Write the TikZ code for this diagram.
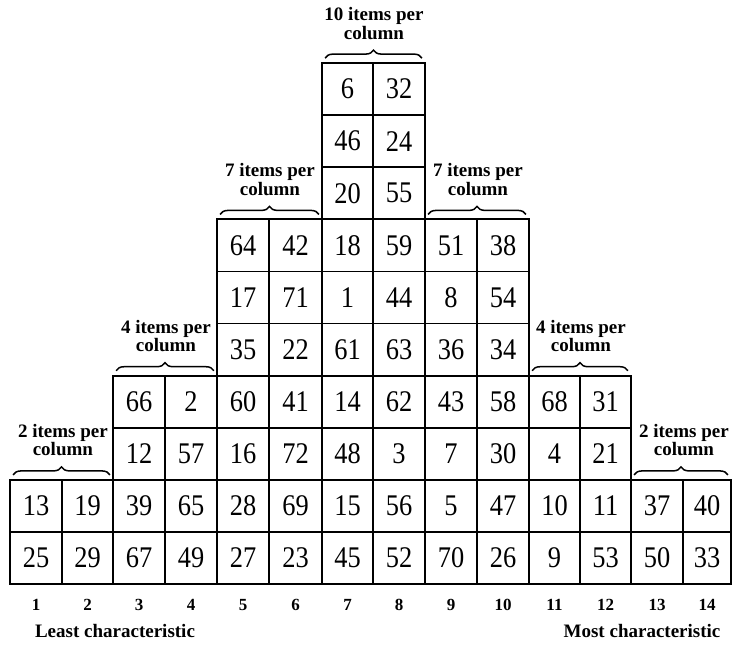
\documentclass[tikz,border=0pt]{standalone}
\usepackage{fontspec}
\setmainfont{Liberation Serif}
\newfontfamily\qnumfont[FakeStretch=0.88]{Liberation Serif}
\usetikzlibrary{decorations.pathreplacing,calc}
\tikzset{
  cell/.style={draw, line width=1.8pt, minimum height=52.1pt, inner sep=0pt,
    font=\qnumfont\fontsize{30}{30}\selectfont},
  colnum/.style={anchor=base, inner sep=0pt, font=\bfseries\fontsize{17}{17}\selectfont},
  lab/.style={anchor=base, align=center, inner sep=0pt, font=\bfseries\fontsize{19}{18.5}\selectfont},
  endlab/.style={anchor=base, inner sep=0pt, font=\bfseries\fontsize{19}{19}\selectfont},
  qbr/.style={decorate, decoration={brace, amplitude=8pt}, line width=1.5pt}
}
\newcommand\qsortcol[5]{%
  \foreach \v [count=\i] in {#5}{%
    \node[cell, minimum width={(#3-#2)*1pt}] (c#1-\i) at ({(#2+#3)/2}, {584-(#4-\i+0.5)*52.1}) {\v};
  }
  \node[colnum] (n#1) at ({(#2+#3)/2}, 610) {#1};
}
\newcommand\qsortbrace[3]{%
  \draw[qbr] ([xshift=4pt,yshift=4pt]c#1-1.north west) -- ([xshift=-4pt,yshift=4pt]c#2-1.north east);
  \node[lab] (lab#1) at ([yshift=23pt]c#1-1.north east) {#3 items per\\column};
}
\begin{document}
\begin{tikzpicture}[x=1pt,y=-1pt]
\useasboundingbox (0,0) rectangle (733,649);
\qsortcol{1}{10}{62}{2}{13,25}
\qsortcol{2}{62}{113}{2}{19,29}
\qsortcol{3}{113}{165}{4}{66,12,39,67}
\qsortcol{4}{165}{217}{4}{2,57,65,49}
\qsortcol{5}{217}{269}{7}{64,17,35,60,16,28,27}
\qsortcol{6}{269}{322}{7}{42,71,22,41,72,69,23}
\qsortcol{7}{322}{373}{10}{6,46,20,18,1,61,14,48,15,45}
\qsortcol{8}{373}{425}{10}{32,24,55,59,44,63,62,3,56,52}
\qsortcol{9}{425}{477}{7}{51,8,36,43,7,5,70}
\qsortcol{10}{477}{529}{7}{38,54,34,58,30,47,26}
\qsortcol{11}{529}{580}{4}{68,4,10,9}
\qsortcol{12}{580}{631}{4}{31,21,11,53}
\qsortcol{13}{631}{683}{2}{37,50}
\qsortcol{14}{683}{731}{2}{40,33}
\qsortbrace{1}{2}{2}
\qsortbrace{3}{4}{4}
\qsortbrace{5}{6}{7}
\qsortbrace{7}{8}{10}
\qsortbrace{9}{10}{7}
\qsortbrace{11}{12}{4}
\qsortbrace{13}{14}{2}
\node[endlab] (least) at (115,637) {Least characteristic};
\node[endlab] (most) at (642,637) {Most characteristic};
\end{tikzpicture}
\end{document}
